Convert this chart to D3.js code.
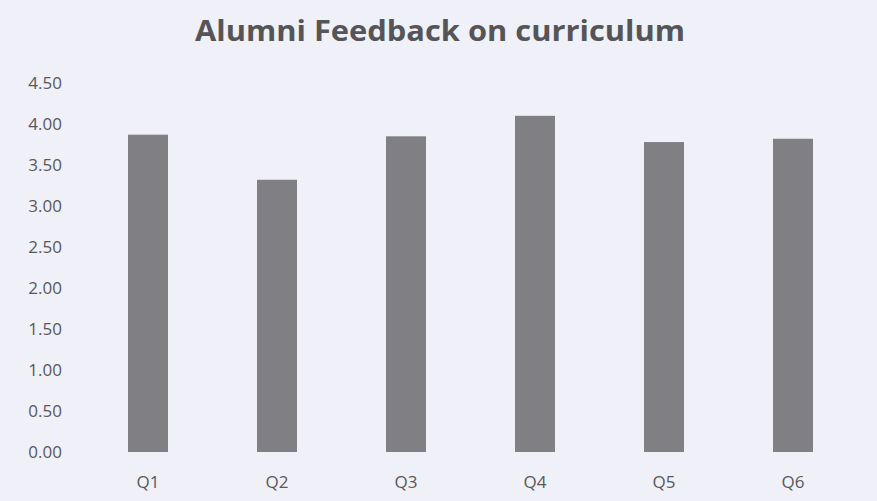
<!DOCTYPE html>
<html><head><meta charset="utf-8">
<script src="https://cdn.jsdelivr.net/npm/d3@7"></script>
<style>body{margin:0;background:#f0f0f8;}svg{display:block;}</style>
</head><body>
<svg id="chart" width="877" height="501"></svg>
<script>
const categories = ["Q1","Q2","Q3","Q4","Q5","Q6"];
const values = [3.87, 3.32, 3.85, 4.10, 3.78, 3.82];
const yTicks = [0,0.5,1,1.5,2,2.5,3,3.5,4,4.5];
const title = "Alumni Feedback on curriculum";

const svg = d3.select("#chart");
svg.append("rect").attr("width",877).attr("height",501).attr("fill","#f0f0f8");

const x = d3.scaleBand().domain(categories).range([83.5, 857.5]).paddingInner(0.69).paddingOuter(0.345);
const y = d3.scaleLinear().domain([0,4.5]).range([452, 83]);

svg.append("text").attr("x",440).attr("y",41).attr("text-anchor","middle")
  .attr("font-family","'Open Sans', sans-serif").attr("font-weight","bold")
  .attr("font-size",28).attr("fill","#555558")
  .attr("textLength",490).attr("lengthAdjust","spacingAndGlyphs")
  .text(title);

const yAxis = d3.axisLeft(y).tickValues(yTicks).tickFormat(d3.format(".2f")).tickSize(0).tickPadding(0);
const ga = svg.append("g").attr("transform","translate(62,0)").call(yAxis);
ga.select(".domain").remove();
ga.selectAll("text").attr("font-family","'Open Sans', sans-serif").attr("font-size",17).attr("fill","#58585c").attr("dy","0.35em");

svg.append("g").selectAll("rect").data(values).join("rect")
  .attr("x",(d,i)=>x(categories[i])).attr("width",x.bandwidth())
  .attr("y",d=>y(d)).attr("height",d=>y(0)-y(d))
  .attr("fill","#808084");

const xAxis = d3.axisBottom(x).tickSize(0).tickPadding(0);
const gx = svg.append("g").attr("transform","translate(0,476)").call(xAxis);
gx.select(".domain").remove();
gx.selectAll("text").attr("font-family","'Open Sans', sans-serif").attr("font-size",17).attr("fill","#58585c");
</script>
</body></html>
